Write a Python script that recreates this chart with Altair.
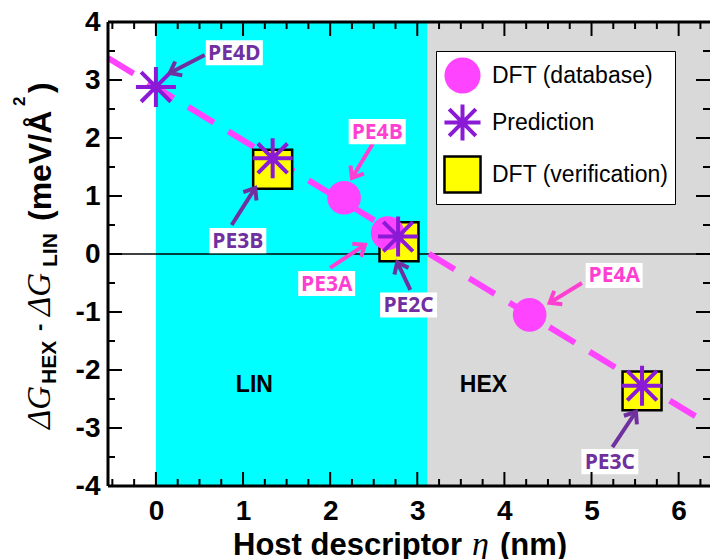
import math
import altair as alt
import pandas as pd

# ---------------- axis ranges / plot size ----------------
X_MIN, X_MAX = -0.55, 6.36
Y_MIN, Y_MAX = -4.0, 4.0
W, H = 602, 464

# ---------------- data ----------------
db_x = [2.16, 2.66, 4.29]          # DFT (database)
db_y = [0.97, 0.36, -1.05]
pred_x = [0.0, 1.34, 2.78, 5.58]   # Prediction
pred_y = [2.88, 1.65, 0.30, -2.27]
ver_x = [1.34, 2.79, 5.58]         # DFT (verification)
ver_y = [1.46, 0.21, -2.36]
fit_x = [-0.55, 6.36]              # dashed fit line end points
fit_y = [3.38, -2.95]

region_name = ["LIN", "HEX"]
region_lo = [0.0, 3.12]
region_hi = [3.12, 6.36]
region_color = ["#00ffff", "#d9d9d9"]
region_text_x = [1.13, 3.76]
region_text_y = [-2.26, -2.26]

pe_text = ["PE4D", "PE4B", "PE3B", "PE3A", "PE2C", "PE4A", "PE3C"]
pe_kind = ["pred", "db", "pred", "db", "pred", "db", "pred"]
pe_x = [0.90, 2.54, 0.94, 1.96, 2.90, 5.26, 5.21]
pe_y = [3.47, 2.11, 0.23, -0.51, -0.88, -0.37, -3.58]
arrow_x0 = [0.56, 2.49, 0.87, 2.00, 2.92, 4.89, 5.24]
arrow_y0 = [3.43, 1.90, 0.50, -0.24, -0.62, -0.50, -3.33]
arrow_x1 = [0.16, 2.25, 1.14, 2.40, 2.77, 4.52, 5.51]
arrow_y1 = [3.12, 1.31, 1.14, 0.16, -0.14, -0.84, -2.72]

x_major = [0, 1, 2, 3, 4, 5, 6]
x_minor = [i / 4 for i in range(-2, 26) if i % 4 != 0]
y_major = [-4, -3, -2, -1, 0, 1, 2, 3, 4]
y_minor = [-3.5, -2.5, -1.5, -0.5, 0.5, 1.5, 2.5, 3.5]

S_DB, S_PRED, S_VER = "DFT (database)", "Prediction", "DFT (verification)"
SERIES = [S_DB, S_PRED, S_VER]

# ---------------- styles ----------------
MAGENTA = "#ff44ff"
PINK_TXT = "#ff3fd2"
PURPLE = "#8b1ad6"
PURPLE_TXT = "#7030a0"
SANS = "Liberation Sans"
SERIF = "Liberation Serif"
STAR = "M-1,0H1M0,-1V1M-0.74,-0.74L0.74,0.74M-0.74,0.74L0.74,-0.74"
CHEVRON = "M-1,-0.78L0,0L-1,0.78"
BOX = "M-1,-0.44H1V0.44H-1Z"

xs = alt.Scale(domain=[X_MIN, X_MAX], nice=False, zero=False)
ys = alt.Scale(domain=[Y_MIN, Y_MAX], nice=False, zero=False)
lab = dict(ticks=False, domain=False, grid=False, title=None, labelFont=SANS,
           labelFontSize=28, labelFontWeight="bold", labelColor="black",
           labelFlush=False, labelExpr="'' + datum.value")
xaxis = alt.Axis(values=x_major, labelPadding=11, **lab)
yaxis = alt.Axis(values=y_major, labelPadding=8, **lab)


def X(f):
    return alt.X(f, type="quantitative", scale=xs, axis=xaxis)


def Y(f):
    return alt.Y(f, type="quantitative", scale=ys, axis=yaxis)


layers = []

# background regions
reg_df = pd.DataFrame({"name": region_name, "lo": region_lo, "hi": region_hi,
                       "ylo": [Y_MIN] * 2, "yhi": [Y_MAX] * 2})
for nm, col in zip(region_name, region_color):
    layers.append(alt.Chart(reg_df).transform_filter(alt.datum.name == nm)
                  .mark_rect(color=col, opacity=1)
                  .encode(x=X("lo"), x2="hi", y=Y("ylo"), y2="yhi"))

# zero line
layers.append(alt.Chart(pd.DataFrame({"y": [0]})).mark_rule(color="black", strokeWidth=1.5)
              .encode(y=Y("y"), x=alt.value(0), x2=alt.value(W)))

# dashed fit line
layers.append(alt.Chart(pd.DataFrame({"x": fit_x, "y": fit_y}))
              .mark_line(color=MAGENTA, strokeWidth=6, strokeDash=[30, 17])
              .encode(x=X("x"), y=Y("y")))

# points
pts = pd.concat([
    pd.DataFrame({"x": db_x, "y": db_y, "series": S_DB}),
    pd.DataFrame({"x": pred_x, "y": pred_y, "series": S_PRED}),
    pd.DataFrame({"x": ver_x, "y": ver_y, "series": S_VER}),
], ignore_index=True)

leg = alt.Legend(title=None, orient="none", legendX=328, legendY=29, zindex=5)
penc = dict(
    shape=alt.Shape("series:N", scale=alt.Scale(domain=SERIES, range=["circle", STAR, "square"]), legend=leg),
    fill=alt.Fill("series:N", scale=alt.Scale(domain=SERIES, range=[MAGENTA, "transparent", "#ffff00"]), legend=leg),
    stroke=alt.Stroke("series:N", scale=alt.Scale(domain=SERIES, range=[MAGENTA, PURPLE, "#000000"]), legend=leg),
    strokeWidth=alt.StrokeWidth("series:N", scale=alt.Scale(type="ordinal", domain=SERIES, range=[0, 4, 2.5]), legend=leg),
)
for s, size in [(S_VER, 1520), (S_DB, 1134), (S_PRED, 1600)]:
    layers.append(alt.Chart(pts).transform_filter(alt.datum.series == s)
                  .mark_point(size=size, opacity=1)
                  .encode(x=X("x"), y=Y("y"), **penc))

# arrows
PX_X = W / (X_MAX - X_MIN)
PX_Y = H / (Y_MAX - Y_MIN)
ang = [math.degrees(math.atan2(-(b1 - b0) * PX_Y, (a1 - a0) * PX_X)) % 360
       for a0, b0, a1, b1 in zip(arrow_x0, arrow_y0, arrow_x1, arrow_y1)]
arr = pd.DataFrame({"x0": arrow_x0, "y0": arrow_y0, "x1": arrow_x1, "y1": arrow_y1,
                    "ang": ang, "kind": pe_kind})
for kind, col in [("pred", PURPLE_TXT), ("db", PINK_TXT)]:
    sub = alt.Chart(arr).transform_filter(alt.datum.kind == kind)
    layers.append(sub.mark_rule(color=col, strokeWidth=4)
                  .encode(x=X("x0"), y=Y("y0"), x2="x1", y2="y1"))
    layers.append(sub.mark_point(shape=CHEVRON, size=400, filled=False, strokeWidth=4,
                                 color=col, opacity=1, strokeJoin="miter")
                  .encode(x=X("x1"), y=Y("y1"), angle=alt.Angle("ang:Q", scale=None)))

# annotation labels
lab_df = pd.DataFrame({"t": pe_text, "x": pe_x, "y": pe_y, "kind": pe_kind})
layers.append(alt.Chart(lab_df).mark_point(shape=BOX, size=3249, filled=True, color="white",
                                            opacity=1, strokeWidth=0)
              .encode(x=X("x"), y=Y("y")))
for kind, col in [("pred", PURPLE_TXT), ("db", PINK_TXT)]:
    layers.append(alt.Chart(lab_df).transform_filter(alt.datum.kind == kind)
                  .mark_text(font="Open Sans", fontSize=21, fontWeight="bold", color=col,
                             align="center", baseline="middle", dy=1)
                  .encode(x=X("x"), y=Y("y"), text="t:N"))

# region labels
rt = pd.DataFrame({"t": region_name, "x": region_text_x, "y": region_text_y})
layers.append(alt.Chart(rt).mark_text(font=SANS, fontSize=23, fontWeight="bold", color="black",
                                      align="center", baseline="middle")
              .encode(x=X("x"), y=Y("y"), text="t:N"))

one = pd.DataFrame({"a": [0]})
# frame (left, top, bottom)
layers.append(alt.Chart(one).mark_rule(color="black", strokeWidth=3)
              .encode(x=alt.value(0), y=alt.value(0), y2=alt.value(H)))
layers.append(alt.Chart(one).mark_rule(color="black", strokeWidth=3)
              .encode(x=alt.value(0), x2=alt.value(W), y=alt.value(0)))
layers.append(alt.Chart(one).mark_rule(color="black", strokeWidth=3)
              .encode(x=alt.value(0), x2=alt.value(W), y=alt.value(H)))

# inward ticks on all four sides
for vals, ln in [(x_major, 14), (x_minor, 7)]:
    d = alt.Chart(pd.DataFrame({"v": vals})).mark_rule(color="black", strokeWidth=2)
    layers.append(d.encode(x=X("v"), y=alt.value(H), y2=alt.value(H - ln)))
    layers.append(d.encode(x=X("v"), y=alt.value(0), y2=alt.value(ln)))
for vals, ln in [(y_major, 14), (y_minor, 7)]:
    d = alt.Chart(pd.DataFrame({"v": vals})).mark_rule(color="black", strokeWidth=2)
    layers.append(d.encode(y=Y("v"), x=alt.value(0), x2=alt.value(ln)))
    layers.append(d.encode(y=Y("v"), x=alt.value(W), x2=alt.value(W - ln)))


# axis titles built from pieces (sub/superscripts, italic symbols)
def piece(text, px, py, font, size, weight="bold", style="normal", angle=0):
    return (alt.Chart(pd.DataFrame({"t": [text]}))
            .mark_text(font=font, fontSize=size, fontWeight=weight, fontStyle=style,
                       angle=angle, align="left", baseline="alphabetic", color="black")
            .encode(x=alt.value(px), y=alt.value(py), text="t:N"))


OX, OY = 108, 22  # page position of the plot origin
ytitle = [
    ("ΔG", 50, 429, SERIF, 33, "normal", "italic"),
    ("HEX", 56, 384, SANS, 21, "bold", "normal"),
    ("-", 46, 331, SANS, 22, "bold", "normal"),
    ("ΔG", 50, 316, SERIF, 33, "normal", "italic"),
    ("LIN", 57, 267, SANS, 21, "bold", "normal"),
    ("(meV/Å", 51, 221, SANS, 32, "bold", "normal"),
    ("2", 25, 106, SANS, 17, "bold", "normal"),
    (")", 51, 93, SANS, 32, "bold", "normal"),
]
for t, gx, gy, f, s, w, st in ytitle:
    layers.append(piece(t, gx - OX, gy - OY, f, s, w, st, angle=270))

xtitle = [
    ("Host descriptor", 233, 555, SANS, 31, "bold", "normal"),
    ("η", 472, 555, SERIF, 34, "normal", "italic"),
    ("(nm)", 500, 555, SANS, 31, "bold", "normal"),
]
for t, gx, gy, f, s, w, st in xtitle:
    layers.append(piece(t, gx - OX, gy - OY, f, s, w, st))

chart = (alt.layer(*layers)
         .properties(width=W, height=H,
                     padding={"left": 100, "top": 14, "right": 0, "bottom": 75},
                     autosize=alt.AutoSizeParams(type="none"))
         .configure_view(stroke=None)
         .configure_legend(labelFont=SANS, labelFontSize=23, labelColor="black",
                           symbolSize=1300, rowPadding=2, padding=6,
                           strokeColor="black", fillColor="white", labelOffset=9,
                           labelLimit=400, cornerRadius=0))

chart.save("out.html", embed_options={"renderer": "svg", "actions": False})
